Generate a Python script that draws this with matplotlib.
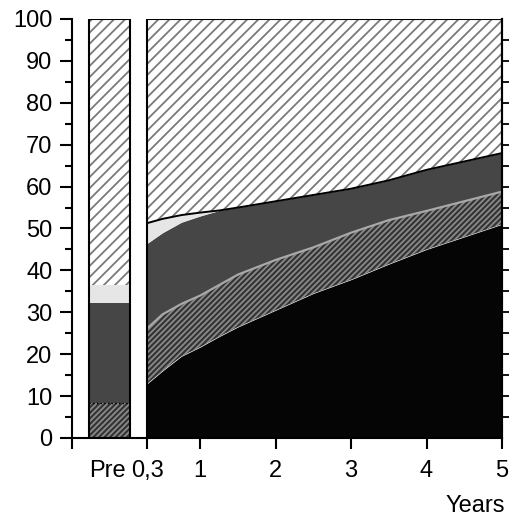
import numpy as np
import matplotlib.pyplot as plt

plt.rcParams['font.family'] = ['Liberation Sans', 'DejaVu Sans']
plt.rcParams['hatch.linewidth'] = 1.3

# years after surgery
years = [0.3, 0.5, 0.75, 1, 1.25, 1.5, 2, 2.5, 3, 3.5, 4, 4.5, 5]
# layer thicknesses (percent), bottom to top
black = [13, 16, 19.5, 21.7, 24.2, 26.5, 30.5, 34.5, 37.8, 41.5, 45, 48, 51]
dark_hatch = [13.2, 13.5, 12.5, 12.3, 12.3, 12.5, 12, 11, 11.2, 10.5, 9.2, 8.5, 7.8]
gray = [20.3, 19.5, 19.5, 19, 17.8, 16, 14, 12.5, 10.5, 9.5, 9.8, 9.5, 9.2]
light = [4.8, 3.3, 1.7, 0.8, 0, 0, 0, 0, 0, 0, 0, 0, 0]

# pre-operative bar
pre_label = "Pre"
pre_pos = -0.2
pre_values = [0, 8.3, 24, 4.3]

xticks = [-0.7, 0.3, 1, 2, 3, 4, 5]
xticklabels = ["", "0,3", "1", "2", "3", "4", "5"]

# (face, hatch colour, hatch)
styles = [
    ("#050505", "#050505", None),
    ("#333333", "#8a8a8a", "//////"),
    ("#464646", "#464646", None),
    ("#e6e6e6", "#e6e6e6", None),
    ("white", "#7a7a7a", "///"),
]

fig = plt.figure(figsize=(5.10, 5.18), dpi=100)
ax = fig.add_axes([72 / 510, 80 / 518, 430 / 510, 419 / 518])

x = np.array(years)
layers = [np.array(black), np.array(dark_hatch), np.array(gray), np.array(light)]
layers.append(100 - sum(layers))
bottom = np.zeros_like(x)
for vals, (fc, hc, h) in zip(layers, styles):
    ax.fill_between(x, bottom, bottom + vals, facecolor=fc, edgecolor=hc,
                    hatch=h, linewidth=0)
    bottom = bottom + vals

cum = np.cumsum(layers, axis=0)
ax.plot(x, cum[1], color="#a8a8a8", lw=1.6)
ax.plot(x, cum[3], color="black", lw=1.4)
ax.vlines(x[0], 0, 100, color="black", lw=1.5)
ax.hlines(100, x[0], x[-1], color="black", lw=1.5)

# pre bar
pre_all = pre_values + [100 - sum(pre_values)]
b = 0
for v, (fc, hc, h) in zip(pre_all, styles):
    if v > 0:
        ax.bar(pre_pos, v, width=0.54, bottom=b, color=fc, edgecolor=hc,
               hatch=h, linewidth=0)
    b += v
ax.bar(pre_pos, 100, width=0.54, fill=False, edgecolor="black", lw=1.5)
ax.hlines(pre_values[1], pre_pos - 0.27, pre_pos + 0.27, color="black",
          lw=1, linestyles=":")

ax.set_xlim(-0.7, 5)
ax.set_ylim(0, 100)
ax.set_xticks(xticks)
ax.set_xticklabels(xticklabels)
ax.set_xticks([pre_pos - 0.03], [pre_label], minor=True)
ax.set_yticks(range(0, 101, 10))
ax.set_yticks(range(5, 100, 10), minor=True)

ax.spines["top"].set_visible(False)
for s in ["left", "bottom", "right"]:
    ax.spines[s].set_linewidth(1.5)
ax.tick_params(axis="y", which="major", length=9, width=1.5, labelsize=17, pad=5)
ax.tick_params(axis="y", which="minor", length=5, width=1.5)
ax.tick_params(axis="x", which="major", length=8, width=1.5, labelsize=17, pad=8)
ax.tick_params(axis="x", which="minor", length=0, labelsize=17, pad=16)

ax2 = ax.twinx()
ax2.set_ylim(0, 100)
ax2.set_yticks(range(5, 100, 5))
ax2.tick_params(axis="y", length=7, width=1.3, labelright=False)
for s in ["top", "left", "bottom"]:
    ax2.spines[s].set_visible(False)
ax2.spines["right"].set_linewidth(1.5)

fig.text(505 / 510, 1 / 518, "Years", ha="right", va="bottom", fontsize=17)

plt.savefig("out.png", dpi=100)
